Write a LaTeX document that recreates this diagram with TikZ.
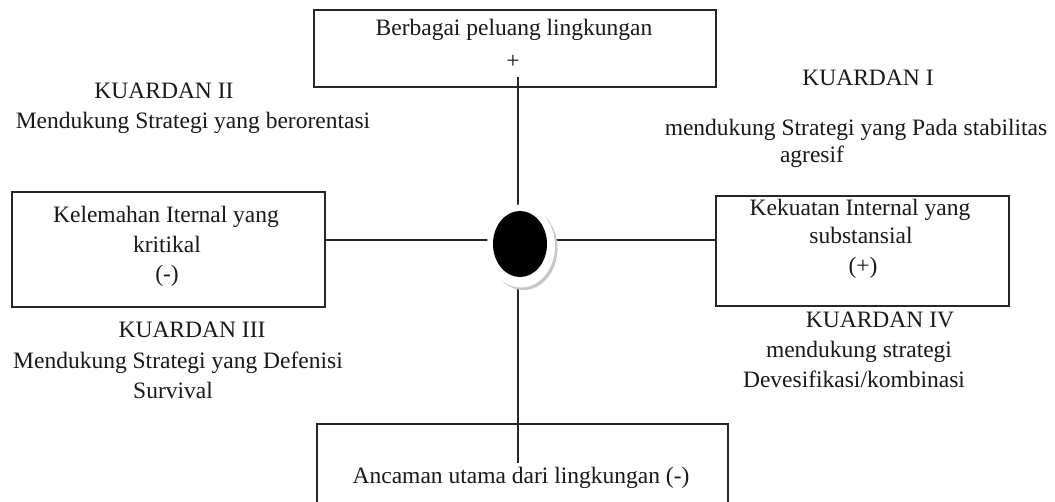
\documentclass[tikz,border=0pt]{standalone}
\usepackage{fontspec}
\setmainfont{Liberation Serif}
\usetikzlibrary{shapes.geometric}
\pgfdeclarelayer{bg}
\pgfsetlayers{bg,main}
\tikzset{
  box/.style={draw=black!85, line width=1.6pt, rectangle, inner sep=0pt, fill=none},
  conn/.style={draw=black!85, line width=1.6pt},
  lbl/.style={anchor=base, inner sep=0pt, font=\fontsize{23.5}{28}\selectfont, text=black!90},
  hubshadow/.style={ellipse, fill=black!22, draw=none, minimum width=68pt, minimum height=83pt, inner sep=0pt},
  hubring/.style={ellipse, fill=white, draw=none, minimum width=68pt, minimum height=83pt, inner sep=0pt},
  hubcore/.style={ellipse, fill=black, draw=none, minimum width=54pt, minimum height=66pt, inner sep=0pt}
}
\begin{document}
\begin{tikzpicture}[x=1pt,y=-1pt]
\clip (0,0) rectangle (1055,501);
% boxes
\node[box, minimum width=402pt, minimum height=77pt] (topbox) at (515,48.5) {};
\node[box, minimum width=313pt, minimum height=115pt] (leftbox) at (168.5,249.5) {};
\node[box, minimum width=293pt, minimum height=110pt] (rightbox) at (862.5,251) {};
\node[box, minimum width=411pt, minimum height=96pt] (botbox) at (522.5,472) {};
% hub
\node[hubshadow] (hubsh) at (523.5,248.5) {};
\node[hubring] (ring) at (521,246) {};
\node[hubcore] (hub) at (520,244) {};
% connector helpers
\coordinate (ttop) at (518,77);
\coordinate (tbot) at (518,463);
\coordinate (hy) at (0,240);
\begin{pgfonlayer}{bg}
\fill[white] (0,0) rectangle (1055,501);
\draw[conn] (ttop) -- (ttop |- ring.center);
\draw[conn] (ttop |- ring.center) -- (tbot);
\draw[conn] (leftbox.east |- hy) -- (rightbox.west |- hy);
\end{pgfonlayer}
% top box text
\node[lbl] (t1) at (514,35) {Berbagai peluang lingkungan};
\node[lbl] (t2) at (513,68) {+};
% quadrant II
\node[lbl] (q2a) at (164,98) {KUARDAN II};
\node[lbl] (q2b) at (193,128) {Mendukung Strategi yang berorentasi};
% quadrant I
\node[lbl] (q1a) at (868,85) {KUARDAN I};
\node[lbl] (q1b) at (856,135) {mendukung Strategi yang Pada stabilitas};
\node[lbl] (q1c) at (812,162) {agresif};
% left box text
\node[lbl] (l1) at (166,222) {Kelemahan Iternal yang};
\node[lbl] (l2) at (167,252) {kritikal};
\node[lbl] (l3) at (167,281) {(-)};
% right box text
\node[lbl] (r1) at (860,215) {Kekuatan Internal yang};
\node[lbl] (r2) at (861,243) {substansial};
\node[lbl] (r3) at (863,273) {(+)};
% quadrant III
\node[lbl] (q3a) at (192,337) {KUARDAN III};
\node[lbl] (q3b) at (178,368) {Mendukung Strategi yang Defenisi};
\node[lbl] (q3c) at (173,398) {Survival};
% quadrant IV
\node[lbl] (q4a) at (880,327) {KUARDAN IV};
\node[lbl] (q4b) at (859,357) {mendukung strategi};
\node[lbl] (q4c) at (854,387) {Devesifikasi/kombinasi};
% bottom box text
\node[lbl] (b1) at (521,483) {Ancaman utama dari lingkungan (-)};
\end{tikzpicture}
\end{document}
